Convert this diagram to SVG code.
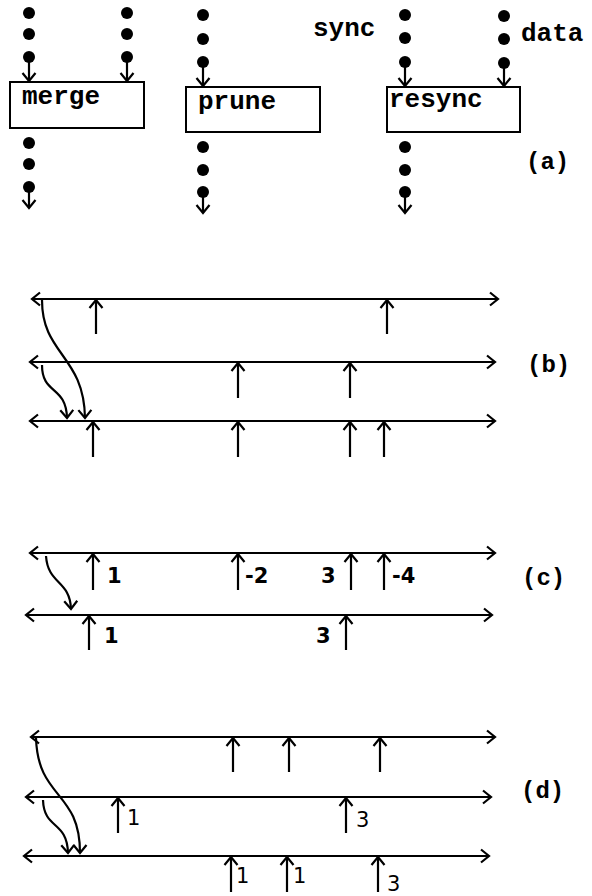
<svg xmlns="http://www.w3.org/2000/svg" width="592" height="896" viewBox="0 0 592 896">
<style>
.ln{stroke:#000;stroke-width:2;fill:none}
.ar{stroke:#000;stroke-width:2.2;fill:none;marker-end:url(#ah)}
.bi{stroke:#000;stroke-width:2.2;fill:none;marker-start:url(#ah);marker-end:url(#ah)}
.box{stroke:#000;stroke-width:2;fill:#fff}
.dot{fill:#000}
.mono{font-family:"Liberation Mono","Courier New",monospace;font-weight:bold;font-size:26px;fill:#000}
.tag{font-family:"Liberation Mono","Courier New",monospace;font-weight:bold;font-size:24px;fill:#000}
.nb{font-family:"DejaVu Sans",sans-serif;font-weight:bold;font-size:21px;fill:#000}
.nr{font-family:"DejaVu Sans",sans-serif;font-size:21px;fill:#000}
</style>
<defs>
<marker id="ah" markerUnits="userSpaceOnUse" markerWidth="20" markerHeight="20" refX="10" refY="10" orient="auto-start-reverse" viewBox="0 0 20 20">
<path d="M2,3.5 L10,10 L2,16.5" fill="none" stroke="#000" stroke-width="2.2"/>
</marker>
</defs>

<!-- (a) -->
<g id="merge">
<rect class="box" x="10" y="82" width="134" height="46"/>
<text class="mono" x="22" y="104">merge</text>
</g>
<g id="prune">
<rect class="box" x="186" y="87" width="134" height="45"/>
<text class="mono" x="198" y="109">prune</text>
</g>
<g id="resync">
<rect class="box" x="387" y="87" width="133" height="45"/>
<text class="mono" x="389" y="107">resync</text>
</g>
<g id="streams">
<circle class="dot" cx="29" cy="13" r="6"/><circle class="dot" cx="29" cy="34" r="6"/><circle class="dot" cx="29" cy="57" r="6"/>
<circle class="dot" cx="127" cy="13" r="6"/><circle class="dot" cx="127" cy="34" r="6"/><circle class="dot" cx="127" cy="57" r="6"/>
<circle class="dot" cx="29" cy="143" r="6"/><circle class="dot" cx="29" cy="164" r="6"/><circle class="dot" cx="29" cy="187" r="6"/>
<circle class="dot" cx="203" cy="15" r="6"/><circle class="dot" cx="203" cy="39" r="6"/><circle class="dot" cx="203" cy="62" r="6"/>
<circle class="dot" cx="203" cy="147" r="6"/><circle class="dot" cx="203" cy="170" r="6"/><circle class="dot" cx="203" cy="192" r="6"/>
<circle class="dot" cx="405" cy="15" r="6"/><circle class="dot" cx="405" cy="38" r="6"/><circle class="dot" cx="405" cy="62" r="6"/>
<circle class="dot" cx="504" cy="16" r="6"/><circle class="dot" cx="504" cy="39" r="6"/><circle class="dot" cx="504" cy="63" r="6"/>
<circle class="dot" cx="405" cy="147" r="6"/><circle class="dot" cx="405" cy="170" r="6"/><circle class="dot" cx="405" cy="192" r="6"/>
</g>
<g id="labels-a">
<text class="mono" x="313" y="36">sync</text>
<text class="mono" x="521" y="41">data</text>
<text class="tag" x="526" y="169">(a)</text>
</g>

<g id="connectors">
<path class="ar" d="M29,57 V81"/>
<path class="ar" d="M127,57 V81"/>
<path class="ar" d="M29,187 V208"/>
<path class="ar" d="M203,62 V86"/>
<path class="ar" d="M203,192 V213"/>
<path class="ar" d="M405,62 V86"/>
<path class="ar" d="M504,63 V86"/>
<path class="ar" d="M405,192 V213"/>

<!-- (b) -->
<path class="bi" d="M32,299 H498"/>
<path class="bi" d="M30,362 H495"/>
<path class="bi" d="M30,421 H495"/>
<path class="ar" d="M96,334 V300"/>
<path class="ar" d="M387,334 V300"/>
<path class="ar" d="M238,398 V363"/>
<path class="ar" d="M350,398 V363"/>
<path class="ar" d="M93,457 V422"/>
<path class="ar" d="M238,457 V422"/>
<path class="ar" d="M350,457 V422"/>
<path class="ar" d="M384,457 V422"/>
<path class="ar" d="M42,300 C42,355 84,355 85,418"/>
<path class="ar" d="M42,365 C42,395 66,385 67,418"/>

<!-- (c) -->
<path class="bi" d="M30,553 H495"/>
<path class="bi" d="M26,615 H492"/>
<path class="ar" d="M93,590 V554"/>
<path class="ar" d="M238,590 V554"/>
<path class="ar" d="M351,590 V554"/>
<path class="ar" d="M384,590 V554"/>
<path class="ar" d="M89,650 V616"/>
<path class="ar" d="M346,650 V616"/>
<path class="ar" d="M46,556 C48,585 70,580 71,609"/>

<!-- (d) -->
<path class="bi" d="M31,737 H495"/>
<path class="bi" d="M26,797 H491"/>
<path class="bi" d="M24,856 H489"/>
<path class="ar" d="M233,772 V738"/>
<path class="ar" d="M289,772 V738"/>
<path class="ar" d="M380,772 V738"/>
<path class="ar" d="M118,833 V798"/>
<path class="ar" d="M346,833 V798"/>
<path class="ar" d="M231,892 V857"/>
<path class="ar" d="M287,892 V857"/>
<path class="ar" d="M378,892 V857"/>
<path class="ar" d="M36,738 C38,800 80,790 80,853"/>
<path class="ar" d="M43,800 C44,830 67,820 68,853"/>
</g>

<g id="labels-b">
<text class="tag" x="527" y="372">(b)</text>
</g>
<g id="labels-c">
<text class="nb" x="107" y="583">1</text>
<text class="nb" x="245" y="583">-2</text>
<text class="nb" x="321" y="583">3</text>
<text class="nb" x="392" y="583">-4</text>
<text class="nb" x="104" y="643">1</text>
<text class="nb" x="316" y="643">3</text>
<text class="tag" x="522" y="585">(c)</text>
</g>
<g id="labels-d">
<text class="nr" x="127" y="825">1</text>
<text class="nr" x="356" y="827">3</text>
<text class="nr" x="236" y="883">1</text>
<text class="nr" x="293" y="883">1</text>
<text class="nr" x="387" y="891">3</text>
<text class="tag" x="521" y="798">(d)</text>
</g>
</svg>
